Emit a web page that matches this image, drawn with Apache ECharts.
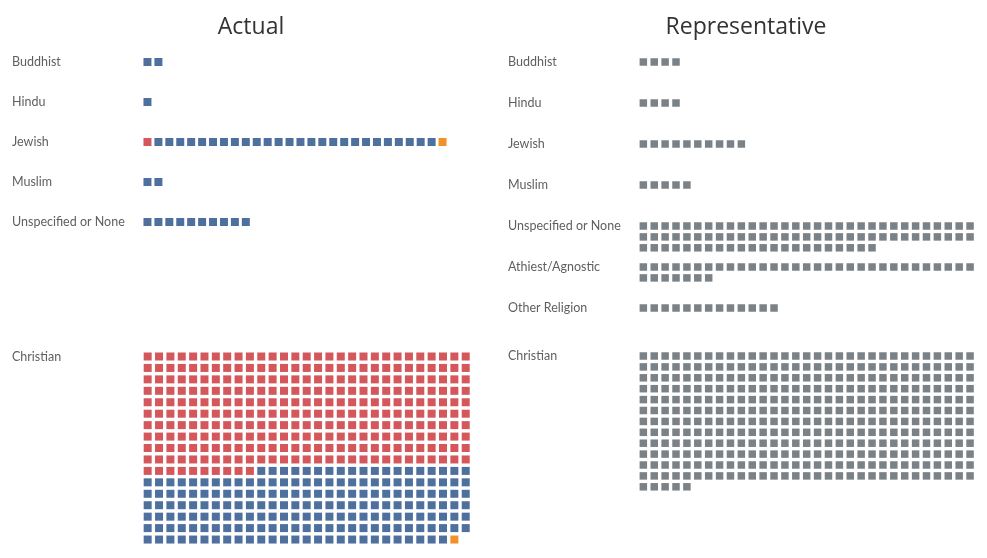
<!DOCTYPE html>
<html>
<head>
<meta charset="utf-8">
<script src="https://cdn.jsdelivr.net/npm/echarts@6/dist/echarts.min.js"></script>
<style>
  html, body { margin: 0; padding: 0; background: #fff; }
  #main { width: 987px; height: 558px; }
</style>
</head>
<body>
<div id="main"></div>
<script>
// religion of congress members (actual) vs population share (representative)
var actualCats = ['Buddhist', 'Hindu', 'Jewish', 'Muslim', 'Unspecified or None', 'Christian'];
var actualRep = [0, 0, 1, 0, 0, 300];   // red
var actualDem = [2, 1, 26, 2, 10, 191]; // blue
var actualInd = [0, 0, 1, 0, 0, 1];     // orange

var repCats = ['Buddhist', 'Hindu', 'Jewish', 'Muslim', 'Unspecified or None', 'Athiest/Agnostic', 'Other Religion', 'Christian'];
var repCounts = [4, 4, 10, 5, 84, 38, 13, 377];

// layout
var ACT_Y = [62, 102, 142, 182, 222, 356.5];
var REP_Y = [62, 103, 144, 185, 226, 267, 308, 356];
var RED = '#d4575b', BLUE = '#4e709f', ORANGE = '#f0912b', GRAY = '#7b8287';
var FONT = 'Lato, "Noto Sans", sans-serif';

// turn counts into [col, y] points, wrapping after `wrap` columns
function waffle(counts, wrap, y0, step) {
    var out = counts.map(function () { return []; });
    var k = 0;
    counts.forEach(function (n, s) {
        for (var i = 0; i < n; i++, k++) {
            out[s].push([k % wrap, y0 + Math.floor(k / wrap) * step]);
        }
    });
    return out;
}

var series = [];
function addSeries(points, colors, grid, size) {
    points.forEach(function (pts, i) {
        series.push({
            type: 'scatter',
            xAxisIndex: grid,
            yAxisIndex: grid,
            symbol: 'rect',
            symbolSize: size,
            itemStyle: { color: colors[i], opacity: 1 },
            silent: true,
            data: pts
        });
    });
}

// actual: small rows on grid 0, christian block on grid 1
for (var i = 0; i < actualCats.length; i++) {
    var last = i === actualCats.length - 1;
    var pts = waffle([actualRep[i], actualDem[i], actualInd[i]], last ? 29 : 100, ACT_Y[i], 11.44);
    addSeries(pts, [RED, BLUE, ORANGE], last ? 1 : 0, 8);
}
// representative: everything on grid 2
for (var j = 0; j < repCats.length; j++) {
    addSeries(waffle([repCounts[j]], 31, REP_Y[j], 10.9), [GRAY], 2, 7.5);
}

var graphics = [
    { type: 'text', x: 251, y: 27, style: { text: 'Actual', fontSize: 23, fontFamily: '"Open Sans", sans-serif', fill: '#333', align: 'center', verticalAlign: 'middle' } },
    { type: 'text', x: 746, y: 27, style: { text: 'Representative', fontSize: 23, fontFamily: '"Open Sans", sans-serif', fill: '#333', align: 'center', verticalAlign: 'middle' } }
];
actualCats.forEach(function (c, i) {
    graphics.push({ type: 'text', x: 12, y: ACT_Y[i], style: { text: c, fontSize: 12.5, fontFamily: FONT, fill: '#5f5f5f', verticalAlign: 'middle' } });
});
repCats.forEach(function (c, i) {
    graphics.push({ type: 'text', x: 508, y: REP_Y[i], style: { text: c, fontSize: 12.5, fontFamily: FONT, fill: '#5f5f5f', verticalAlign: 'middle' } });
});

function xAx(grid, cols) {
    return { gridIndex: grid, type: 'value', min: -0.5, max: cols - 0.5, show: false };
}
function yAx(grid) {
    return { gridIndex: grid, type: 'value', min: 0, max: 558, inverse: true, show: false };
}

var myChart = echarts.init(document.getElementById('main'));
var option = {
    animation: false,
    grid: [
        { left: 142, width: 306, top: 0, height: 558 },
        { left: 142, width: 329.4, top: 0, height: 558 },
        { left: 637.9, width: 337.6, top: 0, height: 558 }
    ],
    xAxis: [xAx(0, 28), xAx(1, 29), xAx(2, 31)],
    yAxis: [yAx(0), yAx(1), yAx(2)],
    graphic: graphics,
    series: series
};
myChart.setOption(option);
</script>
</body>
</html>
